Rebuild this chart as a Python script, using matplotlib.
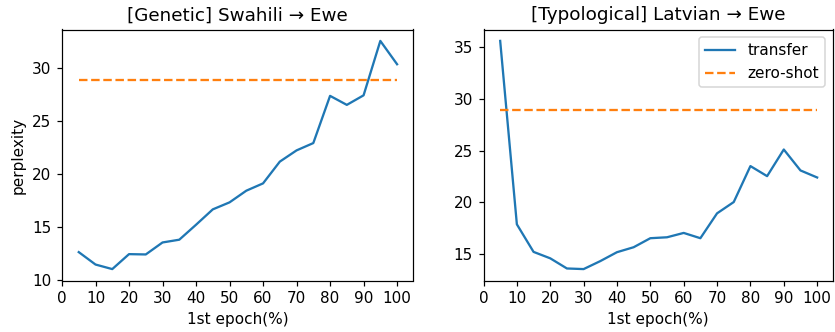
import matplotlib
matplotlib.use("Agg")
import matplotlib.pyplot as plt

epochs = [5, 10, 15, 20, 25, 30, 35, 40, 45, 50, 55, 60, 65, 70, 75, 80, 85, 90, 95, 100]
genetic_transfer = [12.67, 11.5, 11.07, 12.48, 12.45, 13.58, 13.84, 15.25, 16.7, 17.36,
                    18.46, 19.15, 21.2, 22.26, 22.95, 27.4, 26.55, 27.45, 32.58, 30.38]
genetic_zero = 28.9
typo_transfer = [35.58, 17.88, 15.22, 14.6, 13.62, 13.56, 14.33, 15.19, 15.67, 16.54,
                 16.63, 17.05, 16.54, 18.94, 20.03, 23.5, 22.53, 25.1, 23.08, 22.4]
typo_zero = 28.88
titles = ["[Genetic] Swahili \u2192 Ewe", "[Typological] Latvian \u2192 Ewe"]
xticks = [0, 10, 20, 30, 40, 50, 60, 70, 80, 90, 100]

DPI = 110
fig = plt.figure(figsize=(835/DPI, 332/DPI), dpi=DPI)
ax1 = fig.add_axes([62/835, 1-280.5/332, (413-62)/835, (280.5-29.5)/332])
ax2 = fig.add_axes([483.5/835, 1-280.5/332, (833-483.5)/835, (280.5-29.5)/332])

for ax, tr, zs, title in [(ax1, genetic_transfer, genetic_zero, titles[0]),
                          (ax2, typo_transfer, typo_zero, titles[1])]:
    ax.plot(epochs, tr, label="transfer", color="#1f77b4")
    ax.plot(epochs, [zs]*len(epochs), "--", label="zero-shot", color="#ff7f0e")
    ax.set_title(title, fontsize=12)
    ax.set_xlabel("1st epoch(%)")
    ax.set_xticks(xticks)
    ax.set_xlim(left=0)

ax1.set_ylabel("perplexity")
ax2.legend(loc="upper right")

fig.savefig("out.png", dpi=DPI)
